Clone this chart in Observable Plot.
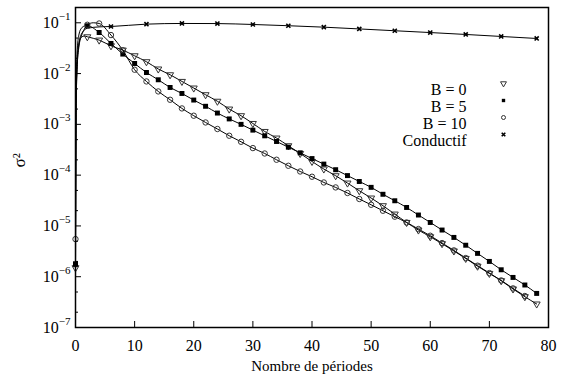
<!DOCTYPE html>
<html><head><meta charset="utf-8">
<script src="https://cdn.jsdelivr.net/npm/d3@7"></script>
<script src="https://cdn.jsdelivr.net/npm/@observablehq/plot@0.6"></script>
<style>
body{margin:0;background:#fff;}
#chart{width:565px;height:382px;}
#chart svg, #chart svg text, #chart svg tspan{font-family:"Liberation Serif","DejaVu Serif",serif !important;}
</style>
</head><body><div id="chart"></div>
<script>
// ---- data ----
const periods = [0,2,4,6,8,10,12,14,16,18,20,22,24,26,28,30,32,34,36,38,40,42,44,46,48,50,52,54,56,58,60,62,64,66,68,70,72,74,76,78];
const b0 = [1.5e-6,0.053,0.0456,0.0352,0.029,0.0224,0.0171,0.0123,0.00947,0.0070,0.00519,0.00383,0.00285,0.0020,0.00148,0.00104,7.24e-4,5.37e-4,3.79e-4,2.67e-4,1.86e-4,1.32e-4,9.73e-5,6.98e-5,4.93e-5,3.54e-5,2.50e-5,1.71e-5,1.17e-5,8.30e-6,6.12e-6,4.47e-6,3.21e-6,2.29e-6,1.61e-6,1.16e-6,8.34e-7,5.73e-7,4.04e-7,2.90e-7];
const b5 = [1.8e-6,0.0873,0.0644,0.0392,0.0242,0.0158,0.0105,0.00755,0.00533,0.00406,0.00301,0.00227,0.00167,0.00128,0.0010,7.7e-4,5.95e-4,4.6e-4,3.55e-4,2.75e-4,2.12e-4,1.65e-4,1.28e-4,9.8e-5,7.5e-5,5.75e-5,4.2e-5,3.13e-5,2.31e-5,1.64e-5,1.17e-5,8.30e-6,5.94e-6,4.17e-6,2.88e-6,2.00e-6,1.37e-6,9.68e-7,6.87e-7,4.69e-7];
const b10Periods = periods.slice(0,39);
const b10 = [5.5e-6,0.0914,0.0969,0.0573,0.0288,0.0119,0.0070,0.00445,0.00305,0.00206,0.00148,0.00109,8.1e-4,5.97e-4,4.54e-4,3.41e-4,2.67e-4,2.01e-4,1.53e-4,1.18e-4,9.31e-5,7.18e-5,5.73e-5,4.45e-5,3.39e-5,2.61e-5,1.99e-5,1.52e-5,1.17e-5,8.69e-6,6.41e-6,4.60e-6,3.30e-6,2.33e-6,1.65e-6,1.18e-6,8.45e-7,5.89e-7,4.17e-7];
const condPeriods = [0,6,12,18,24,30,36,42,48,54,60,66,72,78];
const cond = [1.7e-6,0.0845,0.094,0.097,0.0965,0.0926,0.0875,0.082,0.0757,0.0697,0.0642,0.0589,0.0538,0.0491];
// extra points on the curves (line only, no marker)
const b0ExtraX = [0.1,0.3,0.6,1,1.5];
const b0Extra  = [3e-3,0.02,0.04,0.052,0.055];
const b5ExtraX = [0.1,0.3,0.6,1,1.5];
const b5Extra  = [5e-3,0.03,0.06,0.078,0.086];
const b10ExtraX = [0.1,0.3,0.6,1,1.5,3];
const b10Extra  = [2e-3,0.015,0.035,0.055,0.075,0.1];
const condExtraX = [0.1,0.3,0.6,1,2,4];
const condExtra  = [2e-3,0.015,0.04,0.06,0.078,0.083];
// ticks
const xTicks = [0,10,20,30,40,50,60,70,80];
const yMajor = [1e-7,1e-6,1e-5,1e-4,1e-3,1e-2,1e-1];
const yMinor = [2e-7,5e-7,2e-6,5e-6,2e-5,5e-5,2e-4,5e-4,2e-3,5e-3,2e-2,5e-2];
const legendLabels = ["B = 0","B = 5","B = 10","Conductif"];

// ---- build tables ----
const pts = (xs, ys) => xs.map((x,i)=>({x, y: ys[i]}));
const lineOf = (xs, ys, ex, ey) => pts(xs,ys).concat(pts(ex,ey)).sort((a,b)=>a.x-b.x);
const b0Pts = pts(periods,b0), b5Pts = pts(periods,b5), b10Pts = pts(b10Periods,b10), condPts = pts(condPeriods,cond);
const b0Line = lineOf(periods,b0,b0ExtraX,b0Extra);
const b5Line = lineOf(periods,b5,b5ExtraX,b5Extra);
const b10Line = lineOf(b10Periods,b10,b10ExtraX,b10Extra);
const condLine = lineOf(condPeriods,cond,condExtraX,condExtra);

const W=565,H=382, mL=75, mR=17, mT=7, mB=55;
const pw = W-mL-mR, ph = H-mT-mB;
const FONT = "Liberation Serif, DejaVu Serif, serif";
const styles = [
  {symbol:"triangle", rotate:180, r:2.6, rl:2.2, stroke:"#333", fill:"none", sw:1},
  {symbol:"square", r:2.8, rl:1.9, stroke:"none", fill:"black", sw:1},
  {symbol:"circle", r:2.7, rl:2.0, stroke:"#333", fill:"none", sw:1},
  {symbol:"times", r:2.0, rl:1.8, stroke:"black", fill:"none", sw:1.6}
];
const sets = [b0Pts,b5Pts,b10Pts,condPts];
const lines = [b0Line,b5Line,b10Line,condLine];

const marks = [];
lines.forEach(L => marks.push(Plot.line(L,{x:"x",y:"y",curve:"monotone-x",stroke:"black",strokeWidth:1})));
sets.forEach((S,i)=>{
  const s = styles[i];
  marks.push(Plot.dot(S,{x:"x",y:"y",symbol:s.symbol,r:s.r,stroke:s.stroke,fill:s.fill,strokeWidth:s.sw,rotate:s.rotate||0}));
});
legendLabels.forEach((lab,i)=>{
  const s = styles[i];
  const dy = 76 + i*17;
  marks.push(Plot.text([lab],{frameAnchor:"top-right",dx:-82,dy,textAnchor:"end",fontSize:16,fontFamily:FONT,fill:"black"}));
  marks.push(Plot.dot([0],{frameAnchor:"top-right",dx:-45,dy,symbol:s.symbol,r:s.rl,stroke:s.stroke,fill:s.fill,strokeWidth:s.sw,rotate:s.rotate||0}));
});
marks.push(Plot.tickY(yMajor,{y:d=>d,insetRight:pw-6,stroke:"black",strokeWidth:1}));
marks.push(Plot.tickY(yMinor,{y:d=>d,insetRight:pw-3,stroke:"black",strokeWidth:1}));
marks.push(Plot.tickX(xTicks,{x:d=>d,insetTop:ph-6,stroke:"black",strokeWidth:1}));
marks.push(Plot.axisY({ticks:yMajor,tickSize:0,tickPadding:5,fontSize:16,fontFamily:FONT,label:null,tickFormat:d=>"10^"+Math.round(Math.log10(d))}));
marks.push(Plot.axisX({ticks:xTicks,tickSize:0,tickPadding:12,fontSize:16,fontFamily:FONT,label:null,tickFormat:d=>String(d)}));
marks.push(Plot.text(["Nombre de périodes"],{frameAnchor:"bottom",dy:43,fontSize:15,fontFamily:FONT,fill:"black"}));
marks.push(Plot.text(["σ²"],{frameAnchor:"left",dx:-56,rotate:-90,fontSize:17,fontFamily:FONT,fill:"black"}));
marks.push(Plot.frame({stroke:"black",strokeWidth:1.5}));

const chart = Plot.plot({
  width:W,height:H,marginLeft:mL,marginRight:mR,marginTop:mT,marginBottom:mB,
  style:"font-family:'Liberation Serif','DejaVu Serif',serif;background:white;color:black;",
  x:{domain:[0,80]},
  y:{type:"log",domain:[1e-7,0.2]},
  marks
});
// superscript exponents on y tick labels
const ns = "http://www.w3.org/2000/svg";
chart.querySelectorAll('[aria-label="y-axis tick label"] text').forEach(t=>{
  const parts = t.textContent.split("^");
  if(parts.length<2) return;
  t.textContent = "";
  const a = document.createElementNS(ns,"tspan"); a.textContent = parts[0]; t.appendChild(a);
  const b = document.createElementNS(ns,"tspan"); b.setAttribute("dy","-8"); b.setAttribute("font-size","11");
  b.textContent = parts[1].replace("-","−"); t.appendChild(b);
});
document.getElementById("chart").appendChild(chart);
</script>
</body></html>
